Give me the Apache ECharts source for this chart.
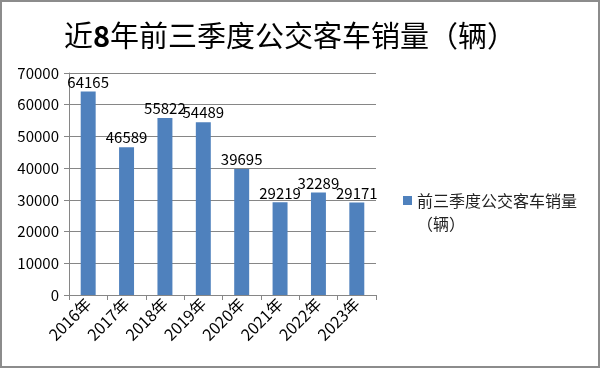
<!DOCTYPE html>
<html><head><meta charset="utf-8">
<script src="https://cdn.jsdelivr.net/npm/echarts@6/dist/echarts.min.js"></script>
<style>
html,body{margin:0;padding:0;background:#fff;}
#wrap{position:absolute;left:0;top:0;width:596px;height:364px;border:2px solid #8c8c8c;}
#c{width:596px;height:364px;}
</style></head>
<body><div id="wrap"><div id="c"></div></div>
<script>
const categories = ['2016年','2017年','2018年','2019年','2020年','2021年','2022年','2023年'];
const sales = [64165, 46589, 55822, 54489, 39695, 29219, 32289, 29171];
const seriesName = '前三季度公交客车销量\n（辆）';
const yTicks = {min: 0, max: 70000, interval: 10000};

const font = '"Noto Sans CJK SC", "Noto Sans", sans-serif';
const chart = echarts.init(document.getElementById('c'));
chart.setOption({
  animation: false,
  title: {
    text: '{a|近}{b|8}{a|年前三季度公交客车销量（辆）}',
    left: 283, top: 14, textAlign: 'center',
    textStyle: {
      fontWeight: 'normal',
      rich: {
        a: {fontSize: 29, fontFamily: font, color: '#000', fontWeight: 'normal'},
        b: {fontSize: 29, fontFamily: font, color: '#000', fontWeight: 'bold'}
      }
    }
  },
  legend: {
    data: [seriesName], orient: 'vertical', left: 401, top: 187, padding: 0,
    itemWidth: 9, itemHeight: 32, itemGap: 6,
    icon: 'path://M0,0L9,0L9,9L0,9Z M0,32L0.02,32L0.02,32.02Z',
    textStyle: {fontSize: 16, fontFamily: font, color: '#222', lineHeight: 23}
  },
  grid: {left: 67, right: 222, top: 71, bottom: 71},
  xAxis: {
    type: 'category', data: categories,
    axisLine: {lineStyle: {color: '#868686'}},
    axisTick: {show: true, alignWithLabel: false, length: 5, lineStyle: {color: '#868686'}},
    axisLabel: {rotate: 45, fontSize: 16, fontFamily: font, color: '#000', margin: 6, interval: 0}
  },
  yAxis: {
    type: 'value', min: yTicks.min, max: yTicks.max, interval: yTicks.interval,
    axisLine: {show: true, lineStyle: {color: '#868686'}},
    axisTick: {show: true, length: 5, lineStyle: {color: '#868686'}},
    splitLine: {lineStyle: {color: '#868686'}},
    axisLabel: {fontSize: 15, fontFamily: font, color: '#000', margin: 10, formatter: v => String(v)}
  },
  series: [{
    name: seriesName, type: 'bar', data: sales, barWidth: '39%',
    itemStyle: {color: '#4F81BD'},
    label: {show: true, position: 'top', fontSize: 15, fontFamily: font, color: '#000', distance: 2}
  }]
});
</script></body></html>
